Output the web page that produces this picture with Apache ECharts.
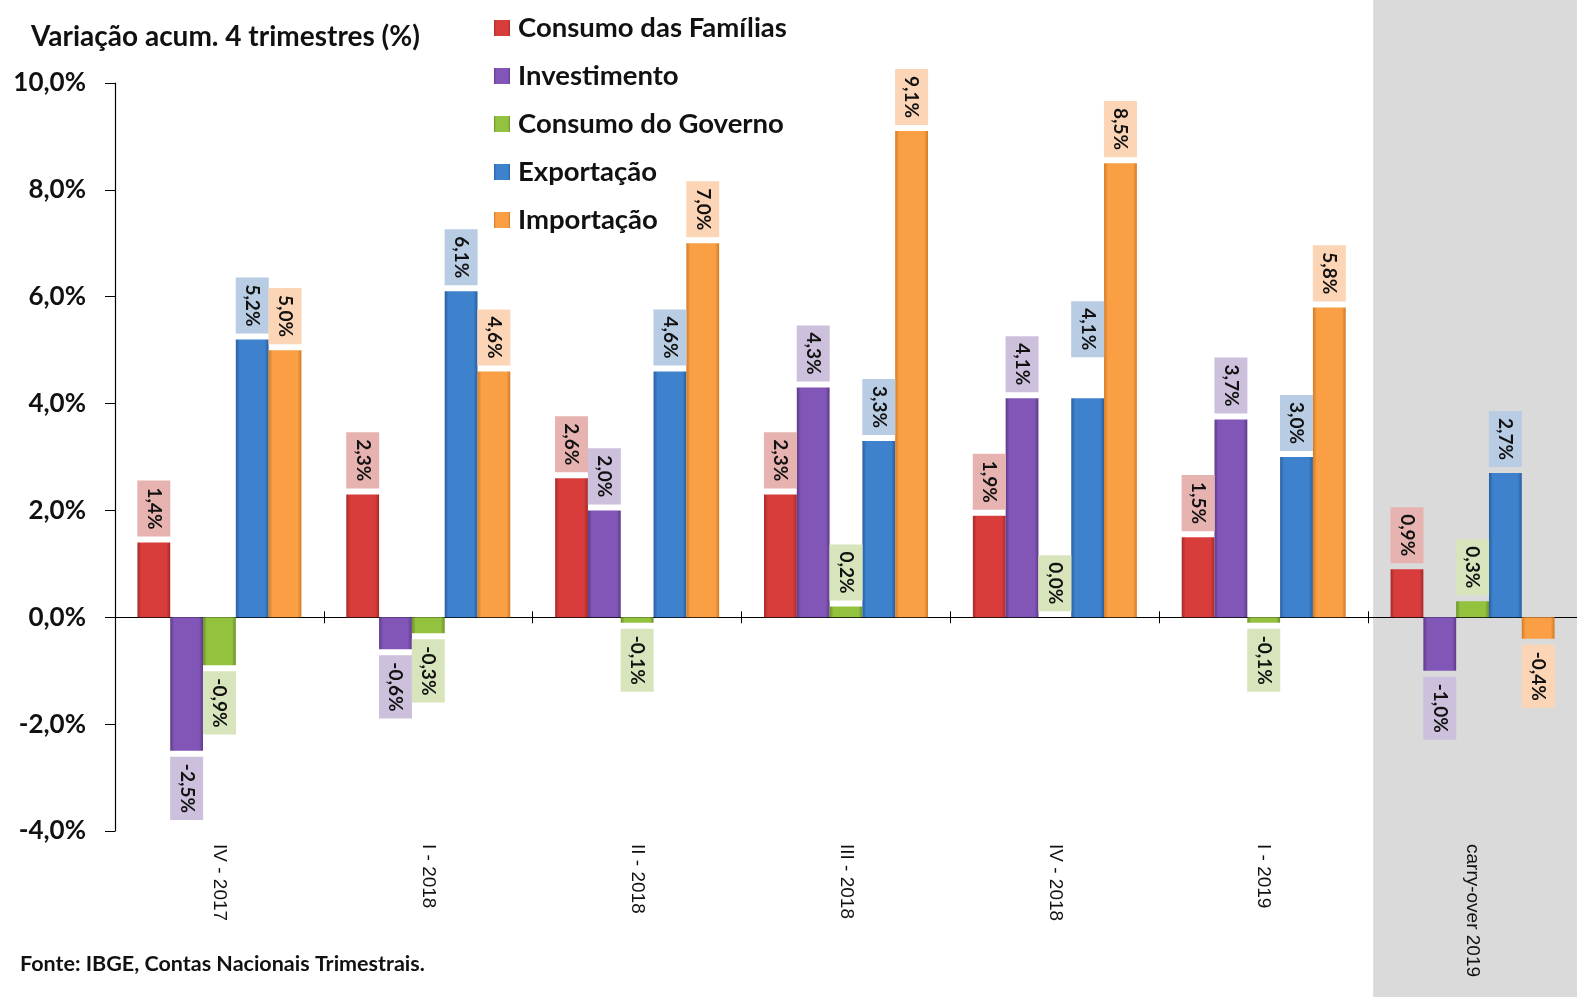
<!DOCTYPE html>
<html>
<head>
<meta charset="utf-8">
<script src="https://cdn.jsdelivr.net/npm/echarts@6/dist/echarts.min.js"></script>
<style>
  html, body { margin: 0; padding: 0; background: #fff; }
  #chart { width: 1577px; height: 997px; }
</style>
</head>
<body>
<div id="chart"></div>
<script>
const categories = ['IV - 2017', 'I - 2018', 'II - 2018', 'III - 2018', 'IV - 2018', 'I - 2019', 'carry-over 2019']
const consumoFamilias = [1.4, 2.3, 2.6, 2.3, 1.9, 1.5, 0.9]
const investimento = [-2.5, -0.6, 2.0, 4.3, 4.1, 3.7, -1.0]
const consumoGoverno = [-0.9, -0.3, -0.1, 0.2, 0.0, -0.1, 0.3]
const exportacao = [5.2, 6.1, 4.6, 3.3, 4.1, 3.0, 2.7]
const importacao = [5.0, 4.6, 7.0, 9.1, 8.5, 5.8, -0.4]
const seriesNames = ['Consumo das Famílias', 'Investimento', 'Consumo do Governo', 'Exportação', 'Importação']
const yMin = -4
const yMax = 10
const yStep = 2

const W = 1577, H = 997
const FONT = 'Lato'
const GRID = { left: 115, right: -7, top: 83, bottom: 166, containLabel: false }

// cor principal, borda escura, fundo do rótulo
const palette = [
  ['#d83d3b', '#a52a28', '#e6b3b1'],
  ['#8156b6', '#5c3a88', '#ccc0dc'],
  ['#93c23f', '#6a9127', '#d8e4bc'],
  ['#3e81cd', '#295f9e', '#b8cce4'],
  ['#fa9f43', '#d27b26', '#fbd5b5']
]

// rótulo deslocado à mão no original (Exportação, IV - 2018); eixo do texto girado
const labelNudge = { '3-4': [-35, 0] }

const fmt = v => v.toFixed(1).replace('.', ',') + '%'

function barColor(c) {
  return new echarts.graphic.LinearGradient(0, 0, 1, 0, [
    { offset: 0, color: c[1] },
    { offset: 0.12, color: c[0] },
    { offset: 0.88, color: c[0] },
    { offset: 1, color: c[1] }
  ])
}

function makeSeries(name, values, idx) {
  const c = palette[idx]
  return {
    name: name,
    type: 'bar',
    xAxisIndex: 0,
    yAxisIndex: 0,
    barWidth: 32.8,
    barGap: '0%',
    itemStyle: { color: barColor(c) },
    data: values.map((v, i) => ({
      value: v,
      label: {
        show: true,
        position: v < 0 ? 'bottom' : 'top',
        align: v < 0 ? 'left' : 'right',
        verticalAlign: 'middle',
        rotate: -90,
        distance: 6,
        offset: labelNudge[idx + '-' + i] || [0, 0],
        formatter: p => fmt(p.value),
        fontFamily: FONT,
        fontWeight: 'bold',
        fontSize: 19,
        lineHeight: 19,
        color: '#111',
        backgroundColor: c[2],
        padding: [7, 7, 7, 7]
      }
    }))
  }
}

const chart = echarts.init(document.getElementById('chart'), null, { renderer: 'canvas' })

const option = {
  animation: false,
  backgroundColor: '#fff',
  grid: [GRID, Object.assign({}, GRID)],
  legend: {
    orient: 'vertical',
    left: 489,
    top: 9,
    icon: 'rect',
    itemWidth: 16,
    itemHeight: 16,
    itemGap: 20,
    data: seriesNames,
    textStyle: { fontFamily: FONT, fontWeight: 'bold', fontSize: 27.5, lineHeight: 24, color: '#111', padding: [0, 0, 0, 3] }
  },
  xAxis: [
    {
      type: 'category',
      gridIndex: 0,
      data: categories,
      axisLine: { onZero: true, lineStyle: { color: '#000', width: 1.2 } },
      axisTick: { show: true, length: 6, lineStyle: { color: '#000' } },
      axisLabel: { show: false }
    },
    {
      type: 'category',
      gridIndex: 0,
      data: categories,
      position: 'bottom',
      axisLine: { show: false, onZero: false },
      axisTick: { show: false },
      axisLabel: {
        rotate: -90,
        margin: 13,
        fontFamily: 'Liberation Sans',
        fontSize: 19,
        color: '#111'
      }
    },
    {
      // só a metade de cima dos traços cruzados sobre o zero
      type: 'category',
      gridIndex: 1,
      data: categories,
      axisLine: { show: false, onZero: true },
      axisTick: { show: true, inside: true, length: 6, lineStyle: { color: '#000' } },
      axisLabel: { show: false }
    }
  ],
  yAxis: [
    {
      type: 'value',
      gridIndex: 0,
      min: yMin,
      max: yMax,
      interval: yStep,
      splitLine: { show: false },
      axisLine: { show: true, lineStyle: { color: '#000', width: 1.2 } },
      axisTick: { show: true, length: 10, lineStyle: { color: '#000' } },
      axisLabel: {
        margin: 29,
        formatter: v => fmt(v),
        fontFamily: FONT,
        fontWeight: 'bold',
        fontSize: 26,
        color: '#111'
      }
    },
    {
      type: 'value',
      gridIndex: 1,
      min: yMin,
      max: yMax,
      interval: yStep,
      splitLine: { show: false },
      axisLine: { show: false },
      axisTick: { show: false },
      axisLabel: { show: false }
    }
  ],
  series: [
    makeSeries(seriesNames[0], consumoFamilias, 0),
    makeSeries(seriesNames[1], investimento, 1),
    makeSeries(seriesNames[2], consumoGoverno, 2),
    makeSeries(seriesNames[3], exportacao, 3),
    makeSeries(seriesNames[4], importacao, 4)
  ],
  graphic: [
    {
      id: 'title', type: 'text', left: 31, top: 23,
      style: { text: 'Variação acum. 4 trimestres (%)', font: 'bold 28px ' + FONT, fill: '#111' }
    },
    {
      id: 'fonte', type: 'text', left: 20, top: 953,
      style: { text: 'Fonte: IBGE, Contas Nacionais Trimestrais.', font: 'bold 21.5px ' + FONT, fill: '#111' }
    }
  ]
}

chart.setOption(option)

// faixa cinza atrás do carry-over, a partir da fronteira da última categoria
const xa = chart.convertToPixel({ xAxisIndex: 0 }, categories[categories.length - 2])
const xb = chart.convertToPixel({ xAxisIndex: 0 }, categories[categories.length - 1])
const shadeLeft = xb - (xb - xa) / 2 + 5
chart.setOption({
  graphic: [
    {
      id: 'shade', type: 'rect', z: -10, silent: true,
      shape: { x: shadeLeft, y: 0, width: W - shadeLeft, height: H },
      style: { fill: '#dadada' }
    }
  ]
})
</script>
</body>
</html>
